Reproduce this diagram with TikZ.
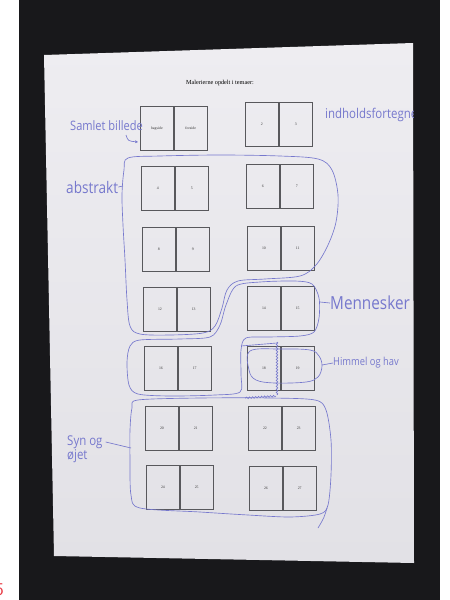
\documentclass[tikz,border=0pt]{standalone}
\usepackage{fontspec}
\setmainfont{Liberation Serif}
\newfontfamily\handfont[FakeStretch=0.85]{Open Sans}
\usetikzlibrary{arrows.meta,decorations.pathmorphing}
\definecolor{papertop}{RGB}{238,237,241}
\definecolor{paperbot}{RGB}{226,225,230}
\definecolor{bgdark}{RGB}{24,24,27}
\definecolor{pen}{RGB}{118,120,205}
\definecolor{boxline}{RGB}{88,88,92}
\definecolor{inkred}{RGB}{232,60,70}
\tikzset{
  pg/.style={draw=boxline, line width=0.8pt, minimum width=33pt, minimum height=44pt,
    inner sep=0pt, anchor=north west, font=\fontsize{3.8}{4}\selectfont, text=black!80},
  blob/.style={draw=pen, line width=0.65pt},
  hand/.style={text=pen, inner sep=0pt, anchor=west},
  squig/.style={blob, decorate, decoration={snake, amplitude=0.8pt, segment length=3pt}},
}
\newcommand{\pgspread}[5]{%
  \node[pg] (#1L) at (#2,#3) {#4};
  \node[pg] (#1R) at (#1L.north east) {#5};
}
\begin{document}
\begin{tikzpicture}[x=1pt,y=-1pt]
\useasboundingbox (0,0) rectangle (450,600);
\clip (0,0) rectangle (450,600);
% surroundings
\fill[white] (0,0) rectangle (450,600);
\fill[bgdark] (19,0) rectangle (440,600);
% paper
\shade[top color=papertop, bottom color=paperbot] (44,55) -- (413,43) -- (414,563) -- (54,556) -- cycle;
% title
\node (title) at (220,83) {\fontsize{6.2}{7}\selectfont Malerierne opdelt i temaer:};
% page spreads
\pgspread{s1}{140}{106}{bagside}{forside}
\pgspread{s2}{245}{102}{2}{3}
\pgspread{s3}{141}{166}{4}{5}
\pgspread{s4}{246}{164}{6}{7}
\pgspread{s5}{142}{227}{8}{9}
\pgspread{s6}{247}{226}{10}{11}
\pgspread{s7}{143}{287}{12}{13}
\pgspread{s8}{247}{286}{14}{15}
\pgspread{s9}{144}{346}{16}{17}
\pgspread{s10}{247}{346}{18}{19}
\pgspread{s11}{145}{406}{20}{21}
\pgspread{s12}{248}{406}{22}{23}
\pgspread{s13}{146}{465}{24}{25}
\pgspread{s14}{249}{466}{26}{27}
% hand-drawn groups
\draw[blob] plot[smooth cycle, tension=0.55] coordinates {(128,158) (160,156) (220,155) (280,156) (318,159) (332,170) (338,195) (336,222) (328,245) (316,265) (300,276) (265,279) (238,281) (227,290) (222,308) (215,326) (203,333) (170,335) (140,334) (130,326) (127,300) (125,260) (123,225) (122,195) (124,170)};
\draw[blob] plot[smooth cycle, tension=0.5] coordinates {(236,286) (260,282) (295,281) (312,284) (319,298) (319,318) (314,332) (300,336) (270,337) (246,338) (241,350) (241,375) (240,392) (215,395) (170,396) (138,394) (129,385) (127,362) (130,346) (140,340) (180,339) (210,337) (220,325) (226,305)};
\draw[blob] (241,346) -- (277,343);
\draw[squig] (277,342) -- (277,395);
\draw[squig] (276,396) -- (245,398);
\draw[blob] plot[smooth cycle, tension=0.6] coordinates {(250,351) (280,349) (310,350) (319,356) (322,366) (318,377) (306,382) (275,383) (256,380) (249,370)};
\draw[blob] plot[smooth cycle, tension=0.5] coordinates {(138,400) (200,398) (270,398) (315,400) (326,410) (331,440) (331,475) (328,505) (320,514) (290,517) (248,515) (200,512) (140,508) (131,495) (130,460) (130,430) (132,408)};
\draw[blob] (327,508) .. controls (324,518) .. (318,528);
% handwritten labels
\begin{scope}
\clip (44,55) -- (413,43) -- (414,563) -- (54,556) -- cycle;
\node[hand, font=\handfont\fontsize{13}{13}\selectfont] (samlet) at (70,126) {Samlet billede};
\node[hand, font=\handfont\fontsize{13.5}{13.5}\selectfont] (indhold) at (325,115) {indholdsfortegnelse};
\node[hand, font=\handfont\fontsize{16}{16}\selectfont] (abstrakt) at (66,187) {abstrakt};
\node[hand, font=\handfont\fontsize{18}{18}\selectfont] (menn) at (330,303) {Mennesker};
\node[hand, font=\handfont\fontsize{11}{11}\selectfont] (himmel) at (333,363) {Himmel og hav};
\node[hand, font=\handfont\fontsize{13.5}{13.5}\selectfont] (syn1) at (67,442) {Syn og};
\node[hand, font=\handfont\fontsize{13.5}{13.5}\selectfont] (syn2) at (67,456) {øjet};
\end{scope}
% connectors
\coordinate (samTail) at (126,135);
\coordinate (samTip) at (138,142);
\draw[blob, -{Stealth[length=3pt,width=3pt]}] (samTail) .. controls (128,141) .. (samTip);
\coordinate (abstrEnd) at (123,186);
\draw[blob] (abstrakt.east) -- (abstrEnd);
\coordinate (mennEnd) at (320,302);
\draw[blob] (mennEnd) -- (menn.west);
\coordinate (himEnd) at (322,365);
\draw[blob] (himEnd) -- (himmel.west);
\coordinate (synEnd) at (131,448);
\draw[blob] ([xshift=3pt]syn1.east) .. controls (118,445) .. (synEnd);
% red page mark
\node[text=inkred, anchor=east, inner sep=0pt, font=\sffamily\fontsize{18}{18}\selectfont] (pgnum) at (4,590) {5};
\end{tikzpicture}
\end{document}
